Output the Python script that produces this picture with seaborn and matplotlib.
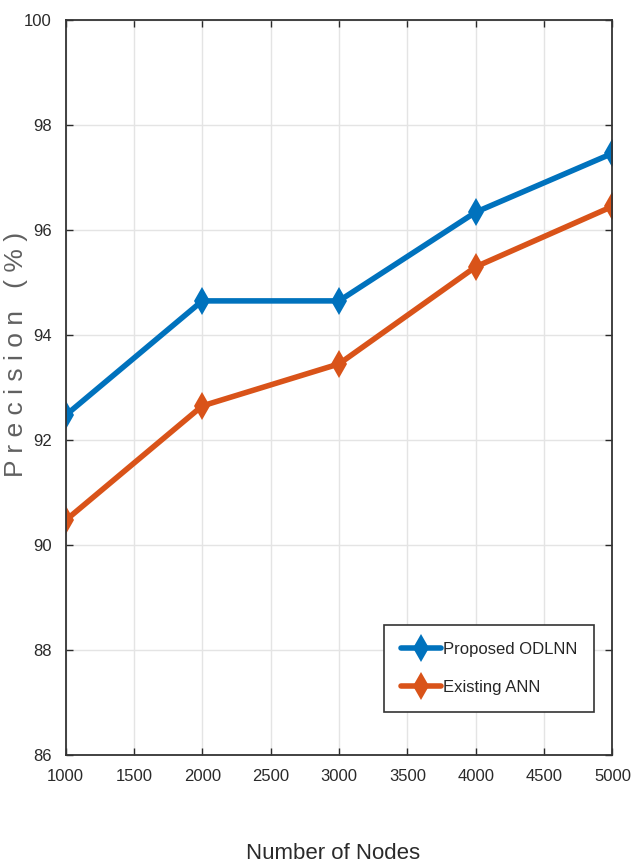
import pandas as pd
import seaborn as sns
import matplotlib.pyplot as plt

#---------------------------------------Data-----------------------------------------------#
nodes = [1000, 2000, 3000, 4000, 5000]
proposed_odlnn = [92.47, 94.65, 94.65, 96.34, 97.46]
existing_ann = [90.47, 92.65, 93.45, 95.30, 96.45]
series_names = ['Proposed ODLNN', 'Existing ANN']
x_ticks = [1000, 1500, 2000, 2500, 3000, 3500, 4000, 4500, 5000]
y_ticks = [86, 88, 90, 92, 94, 96, 98, 100]

df = pd.DataFrame({
    'Nodes': nodes * 2,
    'Precision': proposed_odlnn + existing_ann,
    'Method': [series_names[0]] * len(nodes) + [series_names[1]] * len(nodes),
})

#---------------------------------------Style-----------------------------------------------#
sns.set_style('whitegrid')
plt.rcParams['font.family'] = ['Liberation Sans', 'DejaVu Sans']

fig = plt.figure(figsize=(6.36, 8.67), dpi=100)
ax = fig.add_axes([0.103, 0.129, 0.860, 0.848])

palette = {series_names[0]: '#0072BD', series_names[1]: '#D95319'}
sns.lineplot(data=df, x='Nodes', y='Precision', hue='Method', palette=palette,
             style='Method', markers={series_names[0]: 'd', series_names[1]: 'd'},
             dashes=False, linewidth=4, markersize=14, markeredgewidth=0, ax=ax)

ax.set_xlim(1000, 5000)
ax.set_ylim(86, 100)
ax.set_xticks(x_ticks)
ax.set_yticks(y_ticks)
ax.tick_params(direction='in', length=5, width=1, labelsize=12, colors='#2a2a2a',
               top=True, right=True, bottom=True, left=True, pad=10)
ax.grid(True, color='#e4e4e4', linewidth=1)
for s in ax.spines.values():
    s.set_color('#333333')
    s.set_linewidth(1.3)

ax.set_xlabel('Number of Nodes', fontsize=16, color='#2a2a2a')
ax.xaxis.set_label_coords(0.49, -0.12)
ax.set_ylabel('P r e c i s i o n   ( % )', fontsize=19, color='#606060')
ax.yaxis.set_label_coords(-0.068, 0.545)

leg = ax.legend(loc='lower right', bbox_to_anchor=(0.981, 0.048), fontsize=12,
                frameon=True, fancybox=False, edgecolor='#333333', framealpha=1,
                handlelength=2.4, handletextpad=0.1, borderpad=1.0, labelspacing=1.4)
leg.get_frame().set_linewidth(1.2)

fig.savefig('out.png', dpi=100)
